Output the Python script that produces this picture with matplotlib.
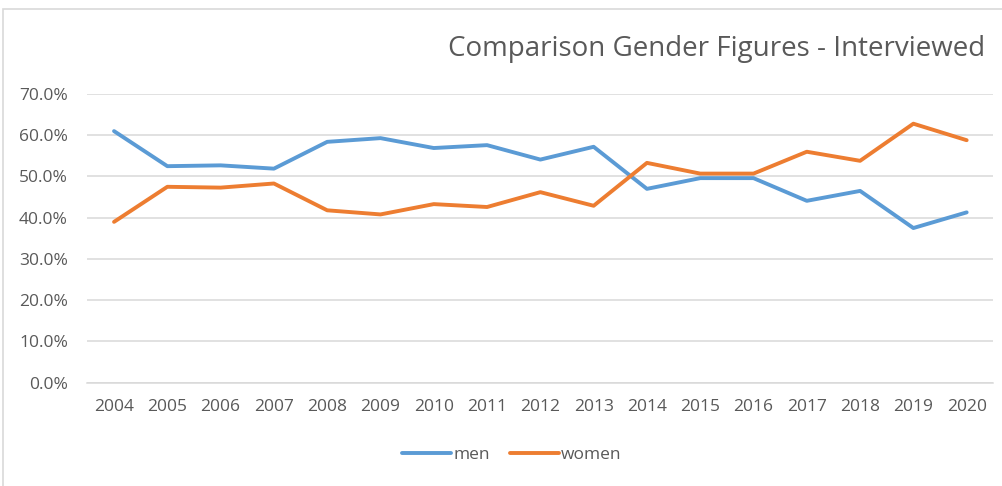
import matplotlib
matplotlib.use('Agg')
import matplotlib.pyplot as plt
from matplotlib.patches import Rectangle
from matplotlib.ticker import PercentFormatter
import numpy as np

years = ['2004', '2005', '2006', '2007', '2008', '2009', '2010', '2011', '2012',
         '2013', '2014', '2015', '2016', '2017', '2018', '2019', '2020']
men = [61.0, 52.5, 52.7, 51.9, 58.4, 59.3, 56.9, 57.6, 54.1,
       57.2, 47.0, 49.6, 49.6, 44.1, 46.5, 37.5, 41.3]
women = [39.0, 47.5, 47.3, 48.3, 41.8, 40.8, 43.3, 42.6, 46.2,
         42.9, 53.3, 50.7, 50.7, 56.0, 53.8, 62.8, 58.8]

plt.rcParams['font.family'] = ['Open Sans', 'DejaVu Sans']
txt = '#595959'
W, H = 1002, 486

fig = plt.figure(figsize=(W / 100, H / 100), dpi=100)
# chart area border
fig.patches.append(Rectangle((2.5 / W, -0.1), 1.2, (H - 9) / H + 0.1, transform=fig.transFigure,
                             fill=False, edgecolor='#D9D9D9', linewidth=1.2))

ax = fig.add_axes([87.4 / W, 103.3 / H, (993.3 - 87.4) / W, (382.7 - 94) / H])
x = np.arange(len(years))
ax.plot(x, men, color='#5B9BD5', linewidth=2.8, label='men', solid_capstyle='round')
ax.plot(x, women, color='#ED7D31', linewidth=2.8, label='women', solid_capstyle='round')

ax.set_xlim(-0.5, len(years) - 0.5)
ax.set_ylim(0, 70)
ax.set_yticks(np.arange(0, 71, 10))
ax.yaxis.set_major_formatter(PercentFormatter(decimals=1))
ax.set_xticks(x)
ax.set_xticklabels(years)
ax.grid(True, axis='y', color='#D9D9D9', linewidth=1.1)
ax.set_axisbelow(True)
for s in ['top', 'right', 'left']:
    ax.spines[s].set_visible(False)
ax.spines['bottom'].set_color('#D9D9D9')
ax.spines['bottom'].set_linewidth(1.1)
ax.tick_params(axis='both', length=0, labelsize=12.5, labelcolor=txt)
ax.tick_params(axis='y', pad=14)
ax.tick_params(axis='x', pad=12)

fig.text(985 / W, 1 - 49 / H, 'Comparison Gender Figures - Interviewed', ha='right', va='center',
         fontsize=20, color=txt)

fig.legend(loc='center', bbox_to_anchor=(512 / W, 1 - 455 / H), ncol=2, frameon=False,
           fontsize=12.5, labelcolor=txt, handlelength=2.8, handletextpad=0.15, columnspacing=1.15)

plt.savefig('out.png', dpi=100)
